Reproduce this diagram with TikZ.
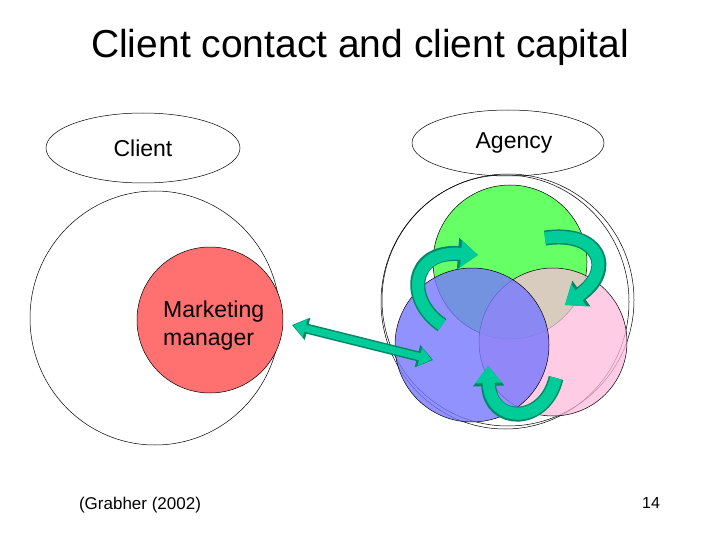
\documentclass[tikz,border=0pt]{standalone}
\usepackage{fontspec}
\setmainfont{Liberation Sans}
\usetikzlibrary{arrows.meta,calc}
\definecolor{grn}{HTML}{66FF66}
\definecolor{blu}{HTML}{7777FF}
\definecolor{pnk}{HTML}{FFBBDD}
\definecolor{rd}{HTML}{FF7070}
\definecolor{tl}{HTML}{00CC99}
\definecolor{tld}{HTML}{008866}
\begin{document}
\begin{tikzpicture}[x=1pt,y=-1pt,
 outl/.style={draw=black,line width=0.5pt},
 carr/.style={draw=tld,line width=15pt,-{Triangle[width=30pt,length=20pt]}},
 carri/.style={draw=tl,line width=12pt,-{Triangle[width=26pt,length=17pt]}},
 lbl/.style={font=\fontsize{23}{28}\selectfont}]
\useasboundingbox (0,0) rectangle (720,540);
\node (title) at (360,47) {\fontsize{39}{46}\selectfont Client contact and client capital};
\draw[outl] (143,148) ellipse (97 and 35);
\node[lbl] (client) at (143,148) {Client};
\draw[outl] (508,143) ellipse (96 and 33);
\node[lbl] (agency) at (514,143) {Agency};
\draw[outl] (155,318) ellipse (125 and 127);
\draw[outl,fill=rd] (210,320) circle (73);
\node[lbl,align=left,anchor=west,inner sep=0pt] (mm) at (163,326) {Marketing\\manager};
\draw[outl] (508,300) ellipse (126 and 126);
\draw[outl] (505,302) ellipse (124 and 127);
\draw[outl,fill=grn] (510,262) circle (77);
\draw[outl,fill=pnk,fill opacity=0.75] (553,342) circle (74);
\draw[outl,fill=blu,fill opacity=0.8] (472,345) circle (77);
\coordinate (a1s) at (442,325); \coordinate (a1e) at (478,255);
\coordinate (a2s) at (545,238); \coordinate (a2e) at (565,305);
\coordinate (a3s) at (556,378); \coordinate (a3e) at (488,366);
\foreach \s in {carr,carri}{
 \draw[\s] (a1s) .. controls (405,300) and (410,250) .. (a1e);
 \draw[\s] (a2s) .. controls (600,230) and (615,270) .. (a2e);
 \draw[\s] (a3s) .. controls (545,425) and (490,425) .. (a3e);
}
\coordinate (ml) at (292,325); \coordinate (ag) at (433,360);
\draw[draw=tld,line width=10pt,{Triangle[width=22pt,length=16pt]}-{Triangle[width=22pt,length=16pt]}] (ml) -- (ag);
\draw[draw=tl,line width=7pt,{Triangle[width=18pt,length=12pt]}-{Triangle[width=18pt,length=12pt]}] ($(ml)!1.5pt!(ag)$) -- ($(ag)!1.5pt!(ml)$);
\node (src) at (140,505) {\fontsize{17}{20}\selectfont (Grabher (2002)};
\node (pg) at (651,503) {\fontsize{16}{19}\selectfont 14};
\end{tikzpicture}
\end{document}
